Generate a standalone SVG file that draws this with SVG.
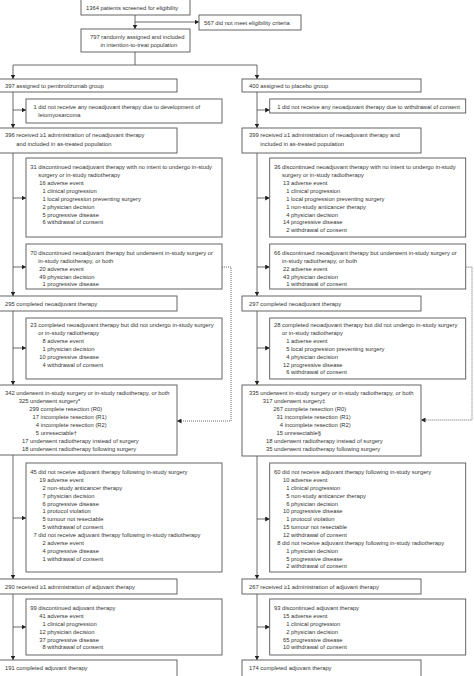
<svg xmlns="http://www.w3.org/2000/svg" width="474" height="676" viewBox="0 0 474 676">
<style>
rect{fill:#fff;stroke:#555;stroke-width:0.9}
text{font-family:"Liberation Sans",Arial,sans-serif;font-size:5.8px;fill:#333}
.c{fill:none;stroke:#444;stroke-width:0.8}
.d{fill:none;stroke:#444;stroke-width:0.8;stroke-dasharray:1 1}
</style>
<defs>
<marker id="ah" markerUnits="userSpaceOnUse" markerWidth="5" markerHeight="5" refX="4.5" refY="2.5" orient="auto">
<path d="M0,0 L4.5,2.5 L0,5 z" fill="#222"/>
</marker>
</defs>
<rect x="0" y="0" width="474" height="676" style="fill:#fff;stroke:none"/>
<g id="connectors">
<path class="c" d="M135,15 V29" marker-end="url(#ah)"/>
<path class="c" d="M135,22 H199" marker-end="url(#ah)"/>
<path class="c" d="M135,52 V65"/>
<path class="c" d="M135,65 H13 V79" marker-end="url(#ah)"/>
<path class="c" d="M135,65 H257 V79" marker-end="url(#ah)"/>
<path class="c" d="M13,92 V128" marker-end="url(#ah)"/>
<path class="c" d="M13,110 H26" marker-end="url(#ah)"/>
<path class="c" d="M257,92 V128" marker-end="url(#ah)"/>
<path class="c" d="M257,110 H269.7" marker-end="url(#ah)"/>
<path class="c" d="M13,153 V296" marker-end="url(#ah)"/>
<path class="c" d="M13,198 H26" marker-end="url(#ah)"/>
<path class="c" d="M13,267 H26" marker-end="url(#ah)"/>
<path class="c" d="M257,153 V296" marker-end="url(#ah)"/>
<path class="c" d="M257,198 H269.7" marker-end="url(#ah)"/>
<path class="c" d="M257,267 H269.7" marker-end="url(#ah)"/>
<path class="c" d="M13,311 V385" marker-end="url(#ah)"/>
<path class="c" d="M13,348 H26" marker-end="url(#ah)"/>
<path class="c" d="M257,311 V385" marker-end="url(#ah)"/>
<path class="c" d="M257,348 H269.7" marker-end="url(#ah)"/>
<path class="c" d="M13,455 V579" marker-end="url(#ah)"/>
<path class="c" d="M13,518 H26" marker-end="url(#ah)"/>
<path class="c" d="M257,456 V579" marker-end="url(#ah)"/>
<path class="c" d="M257,519 H269.7" marker-end="url(#ah)"/>
<path class="c" d="M13,594 V660" marker-end="url(#ah)"/>
<path class="c" d="M13,627 H26" marker-end="url(#ah)"/>
<path class="c" d="M257,594 V660" marker-end="url(#ah)"/>
<path class="c" d="M257,627 H269.7" marker-end="url(#ah)"/>
<path class="d" d="M222,267 H231 V421 H177" marker-end="url(#ah)"/>
<path class="d" d="M465.7,267 H472 V420 H421" marker-end="url(#ah)"/>
</g>
<g id="n-screened">
<rect x="81" y="-1" width="109" height="16"/>
<text x="86" y="10">1364 patients screened for eligibility</text>
</g>
<g id="n-ineligible">
<rect x="199" y="15" width="102" height="15"/>
<text x="204" y="25">567 did not meet eligibility criteria</text>
</g>
<g id="n-randomised">
<rect x="81" y="29" width="109" height="23"/>
<text x="90" y="38.5">797 randomly assigned and included</text>
<text x="100.5" y="46.5">in intention-to-treat population</text>
</g>
<g id="n-pembro">
<rect x="-2" y="79" width="179" height="13"/>
<text x="5" y="87.5">397 assigned to pembrolizumab group</text>
</g>
<g id="n-placebo">
<rect x="242" y="79" width="179" height="13"/>
<text x="249" y="87.5">400 assigned to placebo group</text>
</g>
<g id="n-l-noneo">
<rect x="26" y="99" width="196" height="24"/>
<text x="33.5" y="109">1 did not receive any neoadjuvant therapy due to development of</text>
<text x="38.3" y="117">leiomyosarcoma</text>
</g>
<g id="n-r-noneo">
<rect x="269.7" y="99" width="196" height="14"/>
<text x="277.2" y="109">1 did not receive any neoadjuvant therapy due to withdrawal of consent</text>
</g>
<g id="n-l-received">
<rect x="-2" y="128" width="179" height="25"/>
<text x="5" y="137">396 received ≥1 administration of neoadjuvant therapy</text>
<text x="16.3" y="145.5">and included in as-treated population</text>
</g>
<g id="n-r-received">
<rect x="242" y="128" width="179" height="25"/>
<text x="249" y="137">399 received ≥1 administration of neoadjuvant therapy and</text>
<text x="260.3" y="145.5">included in as-treated population</text>
</g>
<g id="n-l-disc-noint">
<rect x="26" y="158" width="196" height="79"/>
<text x="30.25" y="169">31 discontinued neoadjuvant therapy with no intent to undergo in-study</text>
<text x="38.3" y="177">surgery or in-study radiotherapy</text>
<text x="39.25" y="185">16 adverse event</text>
<text x="42.5" y="193">1 clinical progression</text>
<text x="42.5" y="200.5">1 local progression preventing surgery</text>
<text x="42.5" y="208.5">2 physician decision</text>
<text x="42.5" y="216.5">5 progressive disease</text>
<text x="42.5" y="224">6 withdrawal of consent</text>
</g>
<g id="n-r-disc-noint">
<rect x="269.7" y="158" width="196" height="79"/>
<text x="273.95" y="169">36 discontinued neoadjuvant therapy with no intent to undergo in-study</text>
<text x="282" y="177">surgery or in-study radiotherapy</text>
<text x="282.95" y="185">13 adverse event</text>
<text x="286.2" y="193">1 clinical progression</text>
<text x="286.2" y="200.5">1 local progression preventing surgery</text>
<text x="286.2" y="208.5">1 non-study anticancer therapy</text>
<text x="286.2" y="216.5">4 physician decision</text>
<text x="282.95" y="224">14 progressive disease</text>
<text x="286.2" y="232">2 withdrawal of consent</text>
</g>
<g id="n-l-disc-surg">
<rect x="26" y="244" width="196" height="45"/>
<text x="30.25" y="255">70 discontinued neoadjuvant therapy but underwent in-study surgery or</text>
<text x="38.3" y="263">in-study radiotherapy, or both</text>
<text x="39.25" y="270.5">20 adverse event</text>
<text x="39.25" y="278.5">49 physician decision</text>
<text x="42.5" y="286">1 progressive disease</text>
</g>
<g id="n-r-disc-surg">
<rect x="269.7" y="244" width="196" height="45"/>
<text x="273.95" y="255">66 discontinued neoadjuvant therapy but underwent in-study surgery or</text>
<text x="282" y="263">in-study radiotherapy, or both</text>
<text x="282.95" y="270.5">22 adverse event</text>
<text x="282.95" y="278.5">43 physician decision</text>
<text x="286.2" y="286">1 withdrawal of consent</text>
</g>
<g id="n-l-completed-neo">
<rect x="-2" y="296" width="179" height="15"/>
<text x="5" y="306">295 completed neoadjuvant therapy</text>
</g>
<g id="n-r-completed-neo">
<rect x="242" y="296" width="179" height="15"/>
<text x="249" y="306">297 completed neoadjuvant therapy</text>
</g>
<g id="n-l-nosurg">
<rect x="26" y="318" width="196" height="61"/>
<text x="30.25" y="327">23 completed neoadjuvant therapy but did not undergo in-study surgery</text>
<text x="38.3" y="335">or in-study radiotherapy</text>
<text x="42.5" y="343">8 adverse event</text>
<text x="42.5" y="351">1 physician decision</text>
<text x="39.25" y="358.5">10 progressive disease</text>
<text x="42.5" y="366.5">4 withdrawal of consent</text>
</g>
<g id="n-r-nosurg">
<rect x="269.7" y="318" width="196" height="61"/>
<text x="273.95" y="327">28 completed neoadjuvant therapy but did not undergo in-study surgery</text>
<text x="282" y="335">or in-study radiotherapy</text>
<text x="286.2" y="343">1 adverse event</text>
<text x="286.2" y="351">5 local progression preventing surgery</text>
<text x="286.2" y="358.5">4 physician decision</text>
<text x="282.95" y="366.5">12 progressive disease</text>
<text x="286.2" y="374">6 withdrawal of consent</text>
</g>
<g id="n-l-surgery">
<rect x="-2" y="385" width="179" height="70"/>
<text x="5" y="395">342 underwent in-study surgery or in-study radiotherapy, or both</text>
<text x="18.8" y="403">325 underwent surgery*</text>
<text x="29.3" y="411">299 complete resection (R0)</text>
<text x="32.55" y="419">17 incomplete resection (R1)</text>
<text x="35.8" y="427">4 incomplete resection (R2)</text>
<text x="35.8" y="435">5 unresectable†</text>
<text x="22.05" y="443">17 underwent radiotherapy instead of surgery</text>
<text x="22.05" y="451">18 underwent radiotherapy following surgery</text>
</g>
<g id="n-r-surgery">
<rect x="242" y="385" width="179" height="71"/>
<text x="249" y="395">335 underwent in-study surgery or in-study radiotherapy, or both</text>
<text x="262.8" y="403">317 underwent surgery‡</text>
<text x="273.3" y="411">267 complete resection (R0)</text>
<text x="276.55" y="419">31 incomplete resection (R1)</text>
<text x="279.8" y="427">4 incomplete resection (R2)</text>
<text x="276.55" y="435">15 unresectable§</text>
<text x="266.05" y="443">18 underwent radiotherapy instead of surgery</text>
<text x="266.05" y="451">35 underwent radiotherapy following surgery</text>
</g>
<g id="n-l-noadj">
<rect x="26" y="463" width="196" height="109"/>
<text x="30.25" y="474">45 did not receive adjuvant therapy following in-study surgery</text>
<text x="39.25" y="481.9">19 adverse event</text>
<text x="42.5" y="489.7">2 non-study anticancer therapy</text>
<text x="42.5" y="497.6">7 physician decision</text>
<text x="42.5" y="505.5">6 progressive disease</text>
<text x="42.5" y="513.4">1 protocol violation</text>
<text x="42.5" y="521.2">5 tumour not resectable</text>
<text x="42.5" y="529.1">5 withdrawal of consent</text>
<text x="33.5" y="537">7 did not receive adjuvant therapy following in-study radiotherapy</text>
<text x="42.5" y="544.8">2 adverse event</text>
<text x="42.5" y="552.7">4 progressive disease</text>
<text x="42.5" y="560.6">1 withdrawal of consent</text>
</g>
<g id="n-r-noadj">
<rect x="269.7" y="463" width="196" height="109"/>
<text x="273.95" y="474">60 did not receive adjuvant therapy following in-study surgery</text>
<text x="282.95" y="481.9">10 adverse event</text>
<text x="286.2" y="489.7">1 clinical progression</text>
<text x="286.2" y="497.6">5 non-study anticancer therapy</text>
<text x="286.2" y="505.5">6 physician decision</text>
<text x="282.95" y="513.4">10 progressive disease</text>
<text x="286.2" y="521.2">1 protocol violation</text>
<text x="282.95" y="529.1">15 tumour not resectable</text>
<text x="282.95" y="537">12 withdrawal of consent</text>
<text x="277.2" y="544.8">8 did not receive adjuvant therapy following in-study radiotherapy</text>
<text x="286.2" y="552.7">1 physician decision</text>
<text x="286.2" y="560.6">5 progressive disease</text>
<text x="286.2" y="568.4">2 withdrawal of consent</text>
</g>
<g id="n-l-adj">
<rect x="-2" y="579" width="179" height="15"/>
<text x="5" y="589">290 received ≥1 administration of adjuvant therapy</text>
</g>
<g id="n-r-adj">
<rect x="242" y="579" width="179" height="15"/>
<text x="249" y="589">267 received ≥1 administration of adjuvant therapy</text>
</g>
<g id="n-l-discadj">
<rect x="26" y="599" width="196" height="56"/>
<text x="30.25" y="610">99 discontinued adjuvant therapy</text>
<text x="39.25" y="618">41 adverse event</text>
<text x="42.5" y="626">1 clinical progression</text>
<text x="39.25" y="633.5">12 physician decision</text>
<text x="39.25" y="641.5">37 progressive disease</text>
<text x="42.5" y="649">8 withdrawal of consent</text>
</g>
<g id="n-r-discadj">
<rect x="269.7" y="599" width="196" height="56"/>
<text x="273.95" y="610">93 discontinued adjuvant therapy</text>
<text x="282.95" y="618">15 adverse event</text>
<text x="286.2" y="626">1 clinical progression</text>
<text x="286.2" y="633.5">2 physician decision</text>
<text x="282.95" y="641.5">65 progressive disease</text>
<text x="282.95" y="649">10 withdrawal of consent</text>
</g>
<g id="n-l-completed-adj">
<rect x="-2" y="660" width="179" height="20"/>
<text x="5" y="670">191 completed adjuvant therapy</text>
</g>
<g id="n-r-completed-adj">
<rect x="242" y="660" width="179" height="20"/>
<text x="249" y="670">174 completed adjuvant therapy</text>
</g>
</svg>
